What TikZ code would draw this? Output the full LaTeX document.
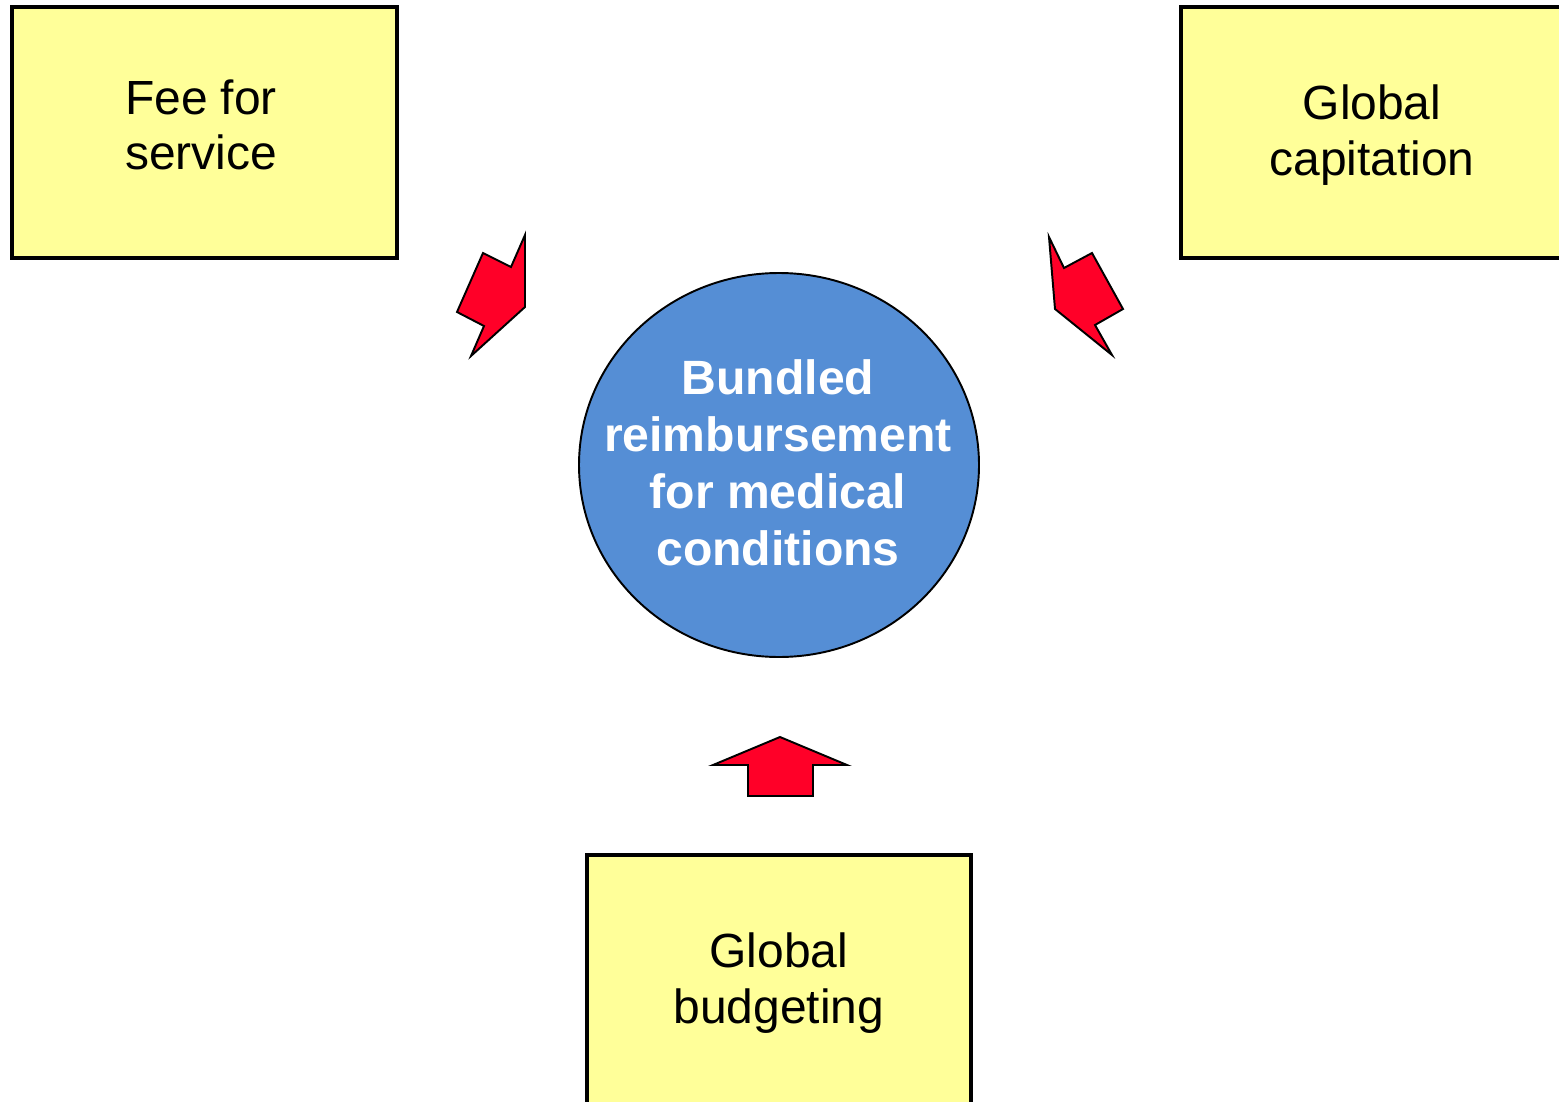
\documentclass[tikz,border=0pt]{standalone}
\usepackage{fontspec}
\setmainfont{Liberation Sans}
\definecolor{boxyellow}{RGB}{255,255,153}
\definecolor{discblue}{RGB}{85,142,213}
\definecolor{arrowred}{RGB}{255,0,40}
\tikzset{
	paybox/.style={draw=black,line width=2.3pt,fill=boxyellow},
	paytext/.style={align=center,font=\fontsize{27.3}{31.5}\selectfont},
	blockarrow/.style={draw=black,line width=1.1pt,fill=arrowred,line join=miter},
}
\begin{document}
\begin{tikzpicture}[x=0.02cm,y=-0.02cm]
	\useasboundingbox (0,0) rectangle (1559,1102);
	% ba khung hình thức chi trả
	\draw[paybox] (12,7) rectangle (397,258);
	\draw[paybox] (1181,7) rectangle (1575,258);
	\draw[paybox] (587,855) rectangle (971,1120);
	\node[paytext] (fee) at (201,125) {Fee for\\service};
	\node[paytext] (cap) at (1372,135) {Global\\capitation};
	\node[paytext] (bud) at (779,983) {Global\\budgeting};
	% hình tròn ở giữa
	\fill[discblue,draw=black,line width=1.1pt] (779,465) ellipse [x radius=200,y radius=192];
	\node[align=center,text=white,font=\bfseries\fontsize{27.4}{32.5}\selectfont] (bundle) at (778,463) {Bundled\\reimbursement\\for medical\\conditions};
	% các mũi tên đỏ
	\draw[blockarrow] (525,235)--(511,267)--(483,253)--(457,312)--(484,326)--(471,356)--(525,307)--cycle;
	\draw[blockarrow] (1049,237)--(1064,268)--(1092,253)--(1123,309)--(1095,325)--(1112,355)--(1055,309)--cycle;
	\draw[blockarrow] (713,765)--(780,737)--(847,765)--(813,765)--(813,796)--(748,796)--(748,765)--cycle;
\end{tikzpicture}
\end{document}
